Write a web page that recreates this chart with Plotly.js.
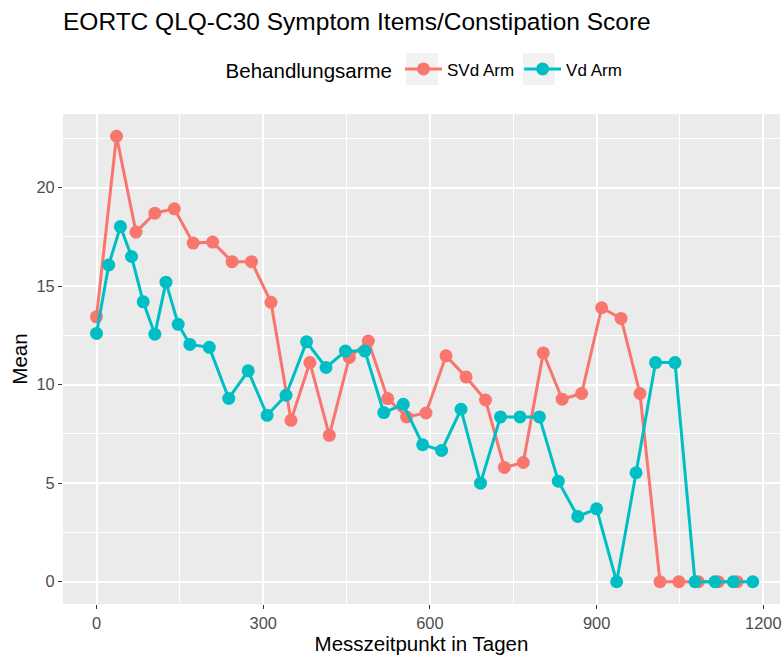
<!DOCTYPE html>
<html>
<head>
<meta charset="utf-8">
<script src="https://cdn.plot.ly/plotly-3.0.1.min.js"></script>
<style>
  html, body { margin: 0; padding: 0; background: #ffffff; }
  #chart { width: 782px; height: 655px; }
</style>
</head>
<body>
<div id="chart"></div>
<script>
// Series names
const seriesNames = ["SVd Arm", "Vd Arm"];
const legendTitle = "Behandlungsarme";

// SVd Arm: measurement day and mean constipation score
const svdDays = [0, 36, 71, 105, 140, 174, 209, 244, 279, 314, 350, 384, 419, 455, 489, 524, 558, 593, 629, 665, 700, 734, 768, 804, 838, 873, 909, 944, 978, 1014, 1048, 1083, 1119, 1153];
const svdMean = [13.44, 22.6, 17.74, 18.7, 18.92, 17.18, 17.23, 16.24, 16.24, 14.18, 8.19, 11.12, 7.43, 11.38, 12.21, 9.29, 8.36, 8.56, 11.46, 10.39, 9.22, 5.8, 6.05, 11.61, 9.26, 9.55, 13.9, 13.36, 9.55, 0, 0, 0, 0, 0];

// Vd Arm: measurement day and mean constipation score
const vdDays = [0, 22, 43, 63, 84, 105, 125, 147, 168, 203, 238, 273, 307, 341, 378, 413, 448, 483, 517, 552, 587, 621, 656, 691, 727, 762, 797, 831, 866, 900, 936, 971, 1006, 1041, 1077, 1113, 1146, 1181];
const vdMean = [12.6, 16.07, 18.02, 16.5, 14.2, 12.56, 15.2, 13.06, 12.04, 11.89, 9.3, 10.7, 8.44, 9.46, 12.17, 10.87, 11.7, 11.7, 8.58, 9.0, 6.95, 6.66, 8.75, 5.0, 8.36, 8.36, 8.36, 5.1, 3.31, 3.7, 0, 5.53, 11.12, 11.12, 0, 0, 0, 0];

// Axis ticks
const xTicks = [0, 300, 600, 900, 1200];
const yTicks = [0, 5, 10, 15, 20];

const colors = ["#F8766D", "#00BFC4"];
const FONT = "Liberation Sans, Arial, sans-serif";

const traces = [
  {
    x: svdDays, y: svdMean, name: seriesNames[0], type: "scatter", mode: "lines+markers",
    line: { color: colors[0], width: 3 },
    marker: { color: colors[0], size: 13 }
  },
  {
    x: vdDays, y: vdMean, name: seriesNames[1], type: "scatter", mode: "lines+markers",
    line: { color: colors[1], width: 3 },
    marker: { color: colors[1], size: 13 }
  }
];

// legend key backgrounds (ggplot-style grey key boxes), paper coordinates
const keyBox = (x0, x1) => ({
  type: "rect", xref: "paper", yref: "paper",
  x0: x0, x1: x1, y0: 1.0592, y1: 1.1245,
  fillcolor: "#F2F2F2", line: { width: 0 }, layer: "below"
});

const layout = {
  width: 782, height: 655,
  margin: { l: 63, r: 2, t: 114, b: 51, pad: 0 },
  paper_bgcolor: "#ffffff",
  plot_bgcolor: "#EBEBEB",
  font: { family: FONT, color: "#1a1a1a" },
  title: {
    text: "EORTC QLQ-C30 Symptom Items/Constipation Score",
    x: 0, xanchor: "left", xref: "paper",
    y: 1 - 21.5 / 655, yanchor: "middle", yref: "container",
    font: { family: FONT, size: 24.5, color: "#000000" }
  },
  showlegend: true,
  legend: {
    orientation: "h",
    x: 0.2240, xanchor: "left",
    y: 1.09, yanchor: "middle",
    title: { text: legendTitle, side: "left", font: { family: FONT, size: 20.5, color: "#000000" } },
    font: { family: FONT, size: 17, color: "#000000" },
    bgcolor: "rgba(0,0,0,0)",
    itemwidth: 37
  },
  shapes: [keyBox(0.4784, 0.5230), keyBox(0.6416, 0.6862)],
  xaxis: {
    range: [-60.3, 1230],
    tickvals: xTicks,
    ticktext: xTicks.map(String),
    showgrid: true, gridcolor: "#ffffff", gridwidth: 2,
    minor: { dtick: 150, tick0: 0, showgrid: true, gridcolor: "#ffffff", gridwidth: 1, ticks: "" },
    zeroline: false,
    ticks: "outside", ticklen: 4, tickwidth: 1, tickcolor: "#333333",
    tickfont: { family: FONT, size: 16.4, color: "#4D4D4D" },
    showline: false,
    title: { text: "Messzeitpunkt in Tagen", font: { family: FONT, size: 20.5, color: "#000000" }, standoff: 3 }
  },
  yaxis: {
    range: [-1.13, 23.73],
    tickvals: yTicks,
    ticktext: yTicks.map(String),
    showgrid: true, gridcolor: "#ffffff", gridwidth: 2,
    minor: { dtick: 2.5, tick0: 0, showgrid: true, gridcolor: "#ffffff", gridwidth: 1, ticks: "" },
    zeroline: false,
    ticks: "outside", ticklen: 4, tickwidth: 1, tickcolor: "#333333",
    tickfont: { family: FONT, size: 16.4, color: "#4D4D4D" },
    showline: false,
    title: { text: "Mean", font: { family: FONT, size: 20.5, color: "#000000" }, standoff: 3 }
  }
};

Plotly.newPlot("chart", traces, layout, { displayModeBar: false, staticPlot: true });
</script>
</body>
</html>
